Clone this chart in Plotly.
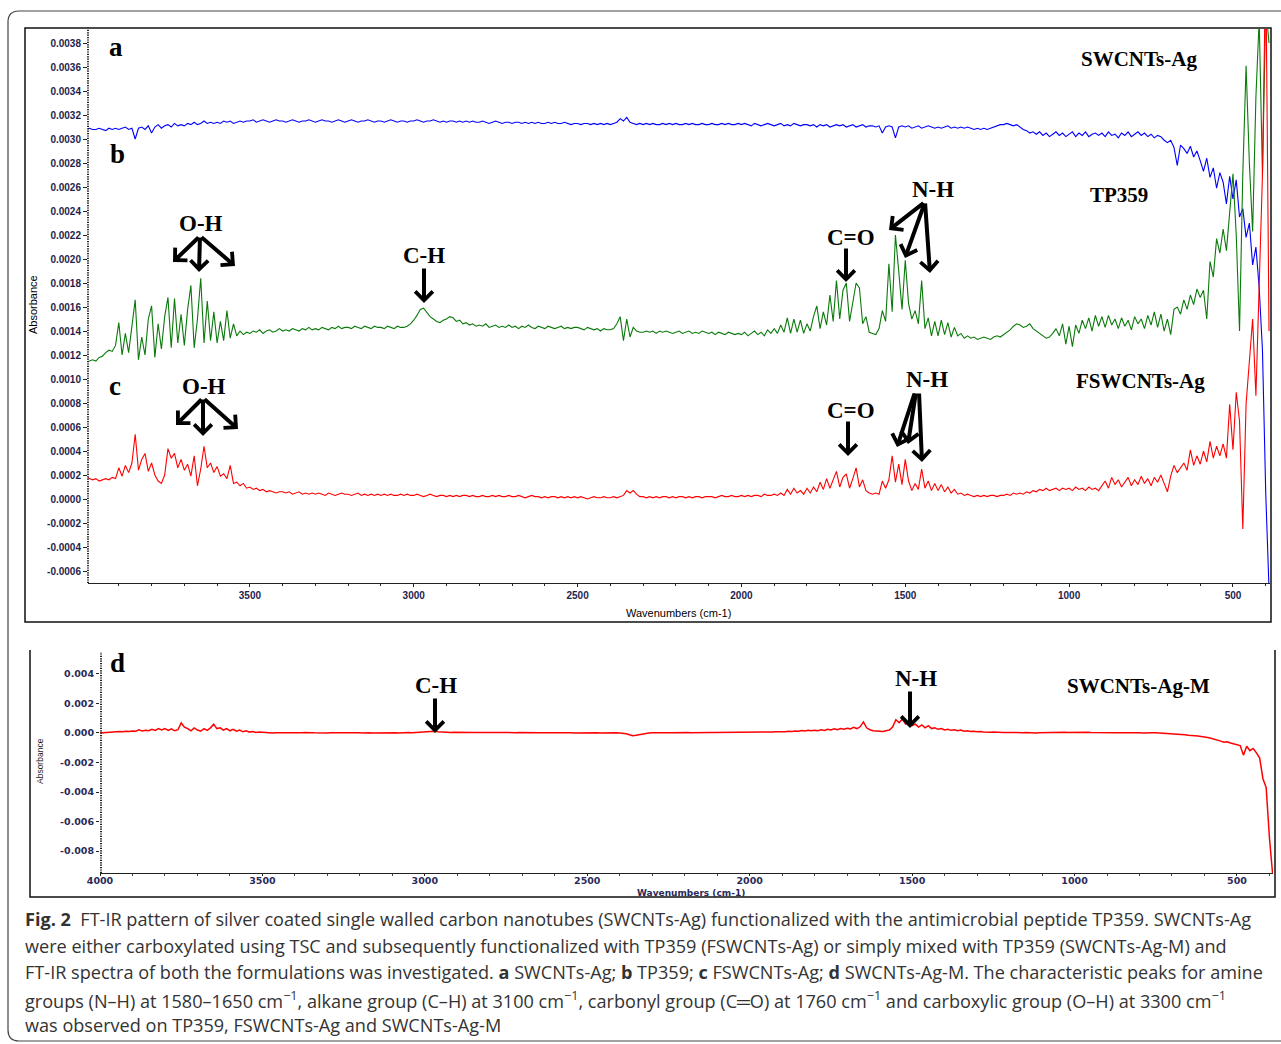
import plotly.graph_objects as go

W, H = 1281, 1044

# Wavenumber sampling grid (cm-1), 4000 -> 390
WAVENUMBER = list(range(4000, 385, -10))

# (a) SWCNTs-Ag, absorbance in units of 1e-4
SWCNT_AG = [
    30.8, 30.9, 30.8, 30.8, 30.9, 30.8, 30.7, 30.9, 30.8, 30.9,
    30.8, 30.9, 31.0, 30.8, 30.9, 30.0, 30.9, 31.0, 30.8, 31.1,
    30.5, 31.0, 31.2, 30.9, 31.1, 31.2, 31.0, 31.3, 31.1, 31.2,
    31.1, 31.3, 31.2, 31.4, 31.2, 31.3, 31.5, 31.3, 31.4, 31.3,
    31.4, 31.3, 31.5, 31.4, 31.5, 31.3, 31.4, 31.5, 31.4, 31.5,
    31.5, 31.6, 31.4, 31.5, 31.6, 31.5, 31.4, 31.5, 31.6, 31.5,
    31.5, 31.4, 31.5, 31.6, 31.5, 31.4, 31.5, 31.5, 31.6, 31.5,
    31.4, 31.5, 31.6, 31.5, 31.5, 31.4, 31.5, 31.6, 31.5, 31.4,
    31.5, 31.6, 31.5, 31.4, 31.5, 31.5, 31.6, 31.5, 31.4, 31.5,
    31.5, 31.4, 31.5, 31.6, 31.5, 31.4, 31.5, 31.5, 31.4, 31.5,
    31.5, 31.6, 31.5, 31.4, 31.5, 31.5, 31.6, 31.5, 31.4, 31.5,
    31.4, 31.5, 31.5, 31.4, 31.5, 31.4, 31.5, 31.4, 31.5, 31.4,
    31.4, 31.5, 31.4, 31.3, 31.4, 31.5, 31.4, 31.3, 31.4, 31.4,
    31.3, 31.4, 31.4, 31.3, 31.4, 31.3, 31.4, 31.3, 31.4, 31.3,
    31.3, 31.4, 31.3, 31.4, 31.3, 31.3, 31.4, 31.3, 31.2, 31.3,
    31.3, 31.2, 31.3, 31.3, 31.2, 31.3, 31.2, 31.3, 31.2, 31.3,
    31.2, 31.3, 31.4, 31.7, 31.5, 31.8, 31.4, 31.3, 31.2, 31.3,
    31.2, 31.3, 31.2, 31.3, 31.2, 31.2, 31.3, 31.2, 31.3, 31.2,
    31.3, 31.2, 31.2, 31.3, 31.2, 31.3, 31.2, 31.2, 31.3, 31.2,
    31.2, 31.3, 31.2, 31.2, 31.3, 31.2, 31.3, 31.2, 31.2, 31.3,
    31.2, 31.3, 31.2, 31.1, 31.3, 31.2, 31.1, 31.2, 31.3, 31.2,
    31.1, 31.2, 31.3, 31.1, 31.2, 31.1, 31.3, 31.2, 31.1, 31.2,
    31.2, 31.1, 31.2, 31.0, 31.2, 31.1, 31.2, 31.0, 31.1, 31.2,
    31.1, 31.2, 31.0, 31.1, 31.2, 31.0, 31.1, 31.2, 31.0, 31.1,
    31.1, 31.0, 31.1, 30.5, 31.0, 31.1, 31.0, 30.1, 31.0, 31.1,
    31.0, 31.1, 30.9, 31.0, 31.1, 30.9, 31.0, 31.1, 31.0, 30.9,
    31.0, 30.9, 31.0, 31.1, 30.9, 31.0, 30.9, 31.0, 30.9, 31.0,
    30.9, 30.8, 30.9, 30.8, 30.9, 30.8, 30.9, 31.0, 31.1, 31.2,
    31.2, 31.3, 31.2, 31.1, 31.2, 31.0, 30.8, 30.7, 30.5, 30.6,
    30.4, 30.6, 30.3, 30.5, 30.2, 30.4, 30.6, 30.3, 30.5, 30.2,
    30.4, 30.6, 30.2, 30.5, 30.3, 30.6, 30.2, 30.4, 30.5, 30.3,
    30.5, 30.2, 30.6, 30.3, 30.4, 30.1, 30.5, 30.3, 30.6, 30.2,
    30.4, 30.6, 30.3, 30.5, 30.2, 30.4, 30.1, 30.3, 30.2, 29.9,
    29.7, 29.9, 29.3, 27.8, 29.5, 29.2, 28.8, 29.4, 28.5, 29.0,
    28.2, 27.3, 28.4, 26.8, 27.6, 25.9, 27.2, 26.4, 24.6, 26.9,
    25.0, 26.6, 23.5, 24.2, 21.8, 23.0, 19.5, 21.0, 17.6, 12.4,
    0.5, -7.5,
]

# (b) TP359, absorbance in units of 1e-4
TP359 = [
    11.4, 11.5, 11.6, 11.5, 11.8, 11.9, 12.2, 12.4, 12.3, 12.8,
    14.7, 12.0, 13.8, 12.2, 14.2, 16.6, 11.6, 13.5, 12.0, 15.0,
    16.1, 11.8, 14.6, 12.5, 15.2, 16.8, 12.6, 16.7, 13.0, 15.4,
    12.8, 15.8, 17.8, 12.6, 15.0, 18.4, 13.0, 16.5, 13.2, 15.6,
    13.0, 14.8, 13.2, 15.7, 13.4, 14.6, 13.6, 14.0, 13.7, 13.9,
    13.8, 14.0, 13.9, 14.1, 13.8, 14.0, 14.1, 13.9, 14.0, 14.2,
    14.0, 14.1, 14.0, 14.2, 14.1, 14.0, 14.2, 14.1, 14.3, 14.1,
    14.2, 14.1, 14.3, 14.2, 14.1, 14.3, 14.2, 14.4, 14.2, 14.3,
    14.3, 14.2, 14.4, 14.3, 14.2, 14.4, 14.3, 14.2, 14.4, 14.3,
    14.3, 14.2, 14.4, 14.3, 14.2, 14.4, 14.3, 14.3, 14.4, 14.6,
    14.9, 15.3, 15.8, 15.9, 15.5, 15.2, 15.0, 14.8, 14.7, 14.9,
    15.0, 15.2, 15.1, 14.8, 14.9, 14.6, 14.7, 14.5, 14.6, 14.4,
    14.5, 14.4, 14.6, 14.3, 14.4, 14.5, 14.3, 14.4, 14.3, 14.5,
    14.3, 14.4, 14.2, 14.4, 14.3, 14.5, 14.3, 14.2, 14.4, 14.3,
    14.2, 14.4, 14.3, 14.2, 14.3, 14.4, 14.2, 14.3, 14.2, 14.3,
    14.3, 14.2, 14.1, 14.3, 14.2, 14.1, 14.2, 14.0, 14.2, 14.1,
    14.1, 14.2, 14.6, 15.2, 13.2, 15.0, 13.5, 14.3, 14.0, 13.9,
    13.9, 14.0, 13.9, 14.0, 13.8, 14.0, 13.9, 14.0, 13.9, 13.8,
    13.9, 14.0, 13.8, 13.9, 14.0, 13.8, 13.9, 13.8, 14.0, 13.9,
    13.8, 13.9, 13.7, 13.9, 13.8, 13.7, 13.9, 13.8, 13.7, 13.8,
    13.7, 13.9, 13.6, 13.8, 14.0, 13.7, 13.9, 13.6, 14.1, 13.8,
    14.2, 13.8, 14.5, 13.9, 15.1, 13.8, 15.0, 13.9, 14.9, 13.8,
    14.6, 14.0, 15.2, 16.1, 14.2, 15.6, 14.5, 17.0, 14.8, 18.2,
    15.0, 17.4, 18.0, 14.8, 16.5, 18.0, 17.6, 14.6, 15.2, 13.9,
    13.8, 13.7, 14.2, 15.7, 14.8, 19.6, 15.6, 22.0, 19.0, 15.8,
    19.9, 16.3, 15.0, 15.7, 14.6, 18.2, 14.2, 15.1, 13.6, 14.8,
    13.6, 14.9, 13.7, 14.7, 13.5, 14.3, 13.6, 13.8, 13.4, 13.6,
    13.4, 13.5, 13.3, 13.4, 13.5, 13.4, 13.3, 13.5, 13.6, 13.5,
    13.7, 13.9, 14.1, 14.4, 14.6, 14.5, 14.3, 14.4, 14.6, 14.2,
    14.0, 13.8, 13.6, 13.4, 13.5, 13.8, 14.2, 13.6, 14.6, 12.9,
    14.4, 12.7, 14.5, 13.8, 14.9, 14.2, 15.1, 14.0, 15.3, 14.4,
    15.2, 14.3, 15.3, 14.5, 15.0, 14.2, 15.1, 14.4, 14.9, 14.1,
    15.2, 14.6, 15.0, 14.2, 15.3, 14.5, 15.6, 14.3, 15.4, 14.0,
    15.0, 13.7, 15.8, 16.0, 15.4, 16.6, 15.8, 17.0, 16.2, 17.5,
    16.8, 17.4, 15.0, 19.8, 18.5, 21.7, 20.5, 22.5, 20.7, 23.9,
    27.1, 22.0, 14.0, 27.1, 36.1, 28.0, 22.3, 33.5, 40.0, 27.0,
    41.0, 38.0,
]

# (c) FSWCNTs-Ag, absorbance in units of 1e-4
FSWCNT_AG = [
    1.9, 1.7, 1.6, 1.7, 1.5, 1.6, 1.7, 1.6, 1.8, 1.7,
    2.6, 1.9, 2.8, 2.2, 3.0, 5.4, 2.4, 3.3, 3.8, 2.3,
    3.0, 2.0, 1.5, 1.3, 2.0, 4.2, 3.4, 3.8, 2.6, 3.3,
    2.4, 2.9, 1.9, 3.6, 1.1, 2.5, 4.4, 2.6, 3.0, 2.2,
    2.7, 1.9, 2.1, 1.7, 2.8, 1.3, 1.4, 1.1, 1.3, 0.9,
    1.0, 0.8, 0.9, 0.7, 0.8, 0.6, 0.7, 0.6, 0.5, 0.6,
    0.6, 0.5, 0.6, 0.4, 0.5, 0.6, 0.4, 0.5, 0.4, 0.5,
    0.4, 0.5, 0.4, 0.3, 0.5, 0.4, 0.3, 0.4, 0.5, 0.4,
    0.4, 0.3, 0.4, 0.5, 0.3, 0.4, 0.3, 0.4, 0.3, 0.4,
    0.3, 0.4, 0.3, 0.4, 0.3, 0.3, 0.4, 0.3, 0.4, 0.3,
    0.3, 0.4, 0.3, 0.2, 0.3, 0.4, 0.3, 0.2, 0.3, 0.3,
    0.2, 0.3, 0.2, 0.3, 0.2, 0.3, 0.3, 0.2, 0.3, 0.2,
    0.2, 0.3, 0.2, 0.2, 0.3, 0.2, 0.3, 0.2, 0.2, 0.3,
    0.2, 0.2, 0.3, 0.2, 0.1, 0.2, 0.3, 0.2, 0.2, 0.1,
    0.2, 0.1, 0.2, 0.2, 0.1, 0.2, 0.1, 0.2, 0.1, 0.2,
    0.1, 0.2, 0.1, 0.0, 0.1, 0.2, 0.1, 0.1, 0.2, 0.1,
    0.1, 0.2, 0.1, 0.2, 0.3, 0.7, 0.5, 0.7, 0.4, 0.2,
    0.2, 0.1, 0.2, 0.1, 0.2, 0.1, 0.2, 0.2, 0.1, 0.2,
    0.1, 0.2, 0.2, 0.1, 0.2, 0.1, 0.2, 0.2, 0.1, 0.2,
    0.2, 0.2, 0.1, 0.2, 0.3, 0.2, 0.2, 0.3, 0.2, 0.2,
    0.3, 0.2, 0.3, 0.2, 0.3, 0.3, 0.2, 0.4, 0.3, 0.3,
    0.4, 0.3, 0.5, 0.3, 0.8, 0.4, 0.9, 0.5, 0.7, 0.4,
    0.9, 0.5, 1.0, 0.6, 1.4, 0.8, 1.7, 0.9, 1.6, 2.3,
    1.0, 1.8, 2.1, 0.9, 1.7, 2.6, 1.0, 1.6, 0.7, 0.5,
    0.4, 0.5, 0.4, 1.5, 0.9, 1.6, 3.6, 1.4, 2.9, 1.2,
    3.3, 1.5, 0.7, 1.3, 0.8, 2.5, 0.9, 1.5, 0.7, 1.3,
    0.7, 1.2, 0.6, 1.0, 0.5, 0.8, 0.4, 0.5, 0.3, 0.4,
    0.3, 0.2, 0.3, 0.2, 0.3, 0.2, 0.3, 0.3, 0.2, 0.3,
    0.3, 0.4, 0.3, 0.5, 0.4, 0.5, 0.4, 0.6, 0.5, 0.7,
    0.6, 0.8, 0.7, 0.9, 0.7, 0.8, 0.9, 0.7, 0.9, 0.8,
    0.9, 0.7, 1.0, 0.8, 0.9, 0.7, 1.0, 0.8, 0.9, 0.7,
    1.1, 1.5, 0.9, 1.8, 1.2, 1.6, 1.0, 1.4, 1.8, 1.1,
    1.6, 1.2, 1.9, 1.3, 1.7, 1.1, 1.8, 1.4, 2.0, 1.3,
    0.6, 1.9, 2.8, 2.2, 2.6, 3.0, 2.4, 4.1, 2.8, 3.6,
    2.9, 4.0, 3.1, 4.8, 3.4, 4.4, 3.6, 4.6, 3.4, 7.9,
    4.1, 8.9, 6.5, -2.5, 7.9, 11.1, 15.0, 8.6, 16.9, 27.0,
    45.0, 14.0,
]

# (d) SWCNTs-Ag-M, absorbance in units of 1e-3
SWCNT_AG_M = [
    0.00, 0.02, 0.05, 0.03, 0.08, 0.06, 0.10, 0.08, 0.12, 0.10,
    0.14, 0.12, 0.22, 0.13, 0.18, 0.15, 0.25, 0.18, 0.30, 0.20,
    0.30, 0.18, 0.28, 0.15, 0.22, 0.68, 0.40, 0.30, 0.15, 0.35,
    0.20, 0.12, 0.30, 0.18, 0.35, 0.60, 0.30, 0.35, 0.20, 0.30,
    0.15, 0.25, 0.12, 0.20, 0.08, 0.15, 0.06, 0.10, 0.04, 0.06,
    0.04, 0.02, 0.03, 0.00, 0.02, 0.01, 0.03, 0.00, 0.02, 0.01,
    0.02, 0.00, 0.01, 0.03, 0.00, 0.02, 0.01, 0.00, 0.02, 0.01,
    0.00, 0.02, 0.01, 0.00, 0.02, 0.00, 0.01, 0.02, 0.00, 0.01,
    0.01, 0.00, 0.02, 0.01, 0.00, 0.01, 0.02, 0.00, 0.01, 0.02,
    0.01, 0.02, 0.00, 0.02, 0.01, 0.03, 0.02, 0.04, 0.03, 0.05,
    0.07, 0.10, 0.15, 0.12, 0.08, 0.06, 0.05, 0.06, 0.04, 0.05,
    0.04, 0.05, 0.03, 0.04, 0.05, 0.03, 0.04, 0.03, 0.04, 0.03,
    0.03, 0.04, 0.03, 0.02, 0.03, 0.04, 0.02, 0.03, 0.02, 0.03,
    0.02, 0.03, 0.02, 0.03, 0.02, 0.01, 0.02, 0.03, 0.02, 0.01,
    0.02, 0.01, 0.02, 0.01, 0.02, 0.01, 0.00, 0.01, 0.02, 0.01,
    0.01, 0.00, 0.01, 0.02, 0.00, 0.01, 0.00, 0.01, 0.00, 0.01,
    0.00, -0.02, -0.05, -0.12, -0.18, -0.15, -0.10, -0.06, -0.03, 0.00,
    0.01, 0.00, 0.02, 0.01, 0.02, 0.01, 0.02, 0.03, 0.02, 0.03,
    0.02, 0.03, 0.02, 0.03, 0.04, 0.03, 0.02, 0.03, 0.04, 0.03,
    0.03, 0.04, 0.03, 0.04, 0.03, 0.04, 0.05, 0.04, 0.03, 0.04,
    0.05, 0.04, 0.06, 0.05, 0.07, 0.06, 0.08, 0.07, 0.09, 0.08,
    0.10, 0.09, 0.12, 0.10, 0.14, 0.12, 0.16, 0.13, 0.18, 0.15,
    0.18, 0.15, 0.22, 0.17, 0.25, 0.20, 0.28, 0.22, 0.30, 0.26,
    0.32, 0.28, 0.38, 0.30, 0.42, 0.75, 0.35, 0.22, 0.15, 0.12,
    0.12, 0.10, 0.15, 0.20, 0.40, 0.90, 0.70, 0.95, 0.60, 0.70,
    0.50, 0.60, 0.40, 0.55, 0.35, 0.50, 0.30, 0.35, 0.25, 0.30,
    0.20, 0.25, 0.18, 0.22, 0.15, 0.20, 0.12, 0.15, 0.10, 0.12,
    0.08, 0.10, 0.06, 0.08, 0.05, 0.06, 0.04, 0.05, 0.03, 0.04,
    0.03, 0.02, 0.03, 0.01, 0.02, 0.03, 0.01, 0.02, 0.00, 0.01,
    0.02, 0.03, 0.04, 0.05, 0.06, 0.05, 0.04, 0.05, 0.03, 0.04,
    0.03, 0.04, 0.05, 0.06, 0.05, 0.04, 0.03, 0.04, 0.02, 0.03,
    0.02, 0.03, 0.02, 0.01, 0.02, 0.01, 0.00, 0.01, 0.02, 0.00,
    0.01, 0.00, 0.02, 0.04, 0.02, 0.01, 0.00, -0.01, -0.02, -0.03,
    -0.05, -0.08, -0.10, -0.08, -0.12, -0.15, -0.14, -0.18, -0.20, -0.22,
    -0.25, -0.30, -0.35, -0.40, -0.48, -0.55, -0.62, -0.60, -0.68, -0.72,
    -0.78, -0.85, -1.50, -0.90, -1.20, -1.05, -1.35, -1.70, -3.10, -3.70,
    -7.1, -9.6,
]

for _s in (SWCNT_AG, TP359, FSWCNT_AG, SWCNT_AG_M):
    assert len(_s) == len(WAVENUMBER), len(_s)

TOP_UNIT = 1e-4
BOTTOM_UNIT = 1e-3

X_TICKS_TOP = [3500, 3000, 2500, 2000, 1500, 1000, 500]
X_TICKS_BOTTOM = [4000, 3500, 3000, 2500, 2000, 1500, 1000, 500]
Y_TICKS_TOP = [-0.0006, -0.0004, -0.0002, 0.0, 0.0002, 0.0004, 0.0006, 0.0008,
               0.0010, 0.0012, 0.0014, 0.0016, 0.0018, 0.0020, 0.0022, 0.0024,
               0.0026, 0.0028, 0.0030, 0.0032, 0.0034, 0.0036, 0.0038]
Y_TICKS_BOTTOM = [-0.008, -0.006, -0.004, -0.002, 0.0, 0.002, 0.004]

CAPTION = [
    "<b>Fig. 2</b>\u00a0 FT-IR pattern of silver coated single walled carbon nanotubes (SWCNTs-Ag) functionalized with the antimicrobial peptide TP359. SWCNTs-Ag",
    "were either carboxylated using TSC and subsequently functionalized with TP359 (FSWCNTs-Ag) or simply mixed with TP359 (SWCNTs-Ag-M) and",
    "FT-IR spectra of both the formulations was investigated. <b>a</b> SWCNTs-Ag; <b>b</b> TP359; <b>c</b> FSWCNTs-Ag; <b>d</b> SWCNTs-Ag-M. The characteristic peaks for amine",
    "groups (N\u2013H) at 1580\u20131650 cm<sup>\u22121</sup>, alkane group (C\u2013H) at 3100 cm<sup>\u22121</sup>, carbonyl group (C\u2550O) at 1760 cm<sup>\u22121</sup> and carboxylic group (O\u2013H) at 3300 cm<sup>\u22121</sup>",
    "was observed on TP359, FSWCNTs-Ag and SWCNTs-Ag-M",
]


def px(x):
    return x / W


def py(y):
    return 1 - y / H


fig = go.Figure()
fig.add_trace(go.Scatter(x=WAVENUMBER, y=[v * TOP_UNIT for v in SWCNT_AG], mode="lines",
                         line=dict(color="#0000ff", width=1.1), xaxis="x", yaxis="y"))
fig.add_trace(go.Scatter(x=WAVENUMBER, y=[v * TOP_UNIT for v in TP359], mode="lines",
                         line=dict(color="#0b7a0b", width=1.1), xaxis="x", yaxis="y"))
fig.add_trace(go.Scatter(x=WAVENUMBER, y=[v * TOP_UNIT for v in FSWCNT_AG], mode="lines",
                         line=dict(color="#ff0000", width=1.1), xaxis="x", yaxis="y"))
fig.add_trace(go.Scatter(x=WAVENUMBER, y=[v * BOTTOM_UNIT for v in SWCNT_AG_M], mode="lines",
                         line=dict(color="#ff0000", width=1.5), xaxis="x2", yaxis="y2"))

tickfont_top = dict(family="Liberation Sans", size=10, color="#1e1e4e", weight="bold")
tickfont_bot = dict(family="DejaVu Sans", size=9.5, color="#2a2a5a", weight="bold")

fig.update_layout(
    width=W, height=H, autosize=False,
    margin=dict(l=0, r=0, t=0, b=0, pad=0),
    paper_bgcolor="white", plot_bgcolor="white", showlegend=False,
    xaxis=dict(domain=[px(88), px(1270)], range=[3994, 387], anchor="y", automargin=False,
               tickmode="array", tickvals=X_TICKS_TOP, ticktext=[str(v) for v in X_TICKS_TOP],
               ticks="outside", ticklen=3, tickcolor="#222", showline=True, linecolor="#222",
               linewidth=1.3, showgrid=False, zeroline=False, tickfont=tickfont_top,
               minor=dict(dtick=100, tick0=0, ticks="outside", ticklen=2, tickcolor="#222")),
    yaxis=dict(domain=[py(583), py(29)], range=[-0.00070, 0.003917], anchor="x", automargin=False,
               tickmode="array", tickvals=Y_TICKS_TOP, ticktext=[f"{v:.4f}" for v in Y_TICKS_TOP],
               ticks="outside", ticklen=4, tickcolor="#222", showline=False,
               showgrid=False, zeroline=False, tickfont=tickfont_top),
    xaxis2=dict(domain=[px(100), px(1273)], range=[4000, 389], anchor="y2", automargin=False,
                tickmode="array", tickvals=X_TICKS_BOTTOM, ticktext=[str(v) for v in X_TICKS_BOTTOM],
                ticks="outside", ticklen=2, tickcolor="#222", showline=True, linecolor="#222",
                linewidth=1.3, showgrid=False, zeroline=False, tickfont=tickfont_bot,
                ticklabelstandoff=-4,
                minor=dict(dtick=100, tick0=0, ticks="outside", ticklen=2, tickcolor="#444")),
    yaxis2=dict(domain=[py(873), py(652)], range=[-0.00949, 0.00549], anchor="x2", automargin=False,
                tickmode="array", tickvals=Y_TICKS_BOTTOM, ticktext=[f"{v:.3f}" for v in Y_TICKS_BOTTOM],
                ticks="outside", ticklen=3, tickcolor="#222", showline=False,
                showgrid=False, zeroline=False, tickfont=tickfont_bot),
)

shapes = []
# top panel frame
shapes.append(dict(type="rect", xref="paper", yref="paper", x0=px(25), x1=px(1271),
                   y0=py(622), y1=py(28), line=dict(color="#111", width=1.5)))
# bottom panel frame (open top)
shapes.append(dict(type="path", xref="paper", yref="paper",
                   path=f"M {px(30)},{py(650)} L {px(30)},{py(897)} L {px(1275)},{py(897)} L {px(1275)},{py(650)}",
                   line=dict(color="#111", width=1.5)))
# outer rounded frame
r = 11
shapes.append(dict(type="path", xref="paper", yref="paper",
                   path=(f"M {px(1295)},{py(11)} L {px(8 + r)},{py(11)} Q {px(8)},{py(11)} {px(8)},{py(11 + r)} "
                         f"L {px(8)},{py(1041 - r)} Q {px(8)},{py(1041)} {px(8 + r)},{py(1041)} L {px(1295)},{py(1041)}"),
                   line=dict(color="#444", width=1.2)))
# dotted y axes
shapes.append(dict(type="line", xref="paper", yref="paper", x0=px(88), x1=px(88), y0=py(583), y1=py(29),
                   line=dict(color="#222", width=2, dash="1.2px,1.2px")))
shapes.append(dict(type="line", xref="paper", yref="paper", x0=px(101), x1=px(101), y0=py(873), y1=py(652),
                   line=dict(color="#222", width=2, dash="1.2px,1.2px")))
fig.update_layout(shapes=shapes)

ann = []


def text(t, x, y, size, family="Liberation Serif", color="black", angle=0, xanchor="center", bold=True):
    ann.append(dict(text=f"<b>{t}</b>" if bold else t, x=px(x), y=py(y), xref="paper", yref="paper",
                    showarrow=False, xanchor=xanchor, yanchor="middle", textangle=angle,
                    font=dict(family=family, size=size, color=color)))


def arrow(tail, head):
    ann.append(dict(text="", x=px(head[0]), y=py(head[1]), xref="paper", yref="paper",
                    ax=tail[0] - head[0], ay=tail[1] - head[1], axref="pixel", ayref="pixel",
                    showarrow=True, arrowhead=4, arrowsize=0.85, arrowwidth=4, arrowcolor="black",
                    standoff=0, startstandoff=0))


# panel letters
for t, x, y in [("a", 116, 47), ("b", 117, 154), ("c", 115, 386), ("d", 117, 663)]:
    text(t, x, y, 27)
# sample names
for t, x, y in [("SWCNTs-Ag", 1139, 59), ("TP359", 1119, 195), ("FSWCNTs-Ag", 1140, 381),
                ("SWCNTs-Ag-M", 1138, 686)]:
    text(t, x, y, 21)
# group labels
for t, x, y in [("O-H", 201, 223), ("C-H", 424, 256), ("C=O", 851, 237), ("N-H", 933, 190),
                ("O-H", 204, 386), ("C=O", 851, 410), ("N-H", 927, 379),
                ("C-H", 436, 685), ("N-H", 916, 678)]:
    text(t, x, y, 23)

# arrows
for h in [(173, 262), (199, 272), (235, 266)]:
    arrow((200, 236), h)
arrow((424, 267), (424, 303))
arrow((846, 247), (846, 282))
for h in [(889, 230), (905, 258), (930, 273)]:
    arrow((925, 202), h)
for h in [(176, 425), (203, 436), (238, 429)]:
    arrow((203, 398), h)
arrow((848, 420), (848, 456))
arrow((915, 392), (897, 447))
arrow((916, 392), (908, 444))
arrow((919, 392), (922, 462))
arrow((435, 697), (435, 733))
arrow((910, 690), (910, 728))

# axis titles
text("Absorbance", 33, 305, 11, family="Liberation Sans", angle=-90, bold=False)
text("Wavenumbers (cm-1)", 678, 613, 11, family="Liberation Sans", bold=False)
text("Absorbance", 40, 761, 8.5, family="Liberation Sans", color="#222", angle=-90, bold=False)
text("Wavenumbers (cm-1)", 691, 893, 9, family="DejaVu Sans", color="#2a2a5a")

# caption
for line, y in zip(CAPTION, [919, 946, 972, 999, 1025]):
    text(line, 23, y, 18.1, family="Open Sans", color="#333", xanchor="left", bold=False)

fig.update_layout(annotations=ann)

fig.write_html("out.html", config={"displayModeBar": False},
               post_script="document.body.style.margin='0px';")
